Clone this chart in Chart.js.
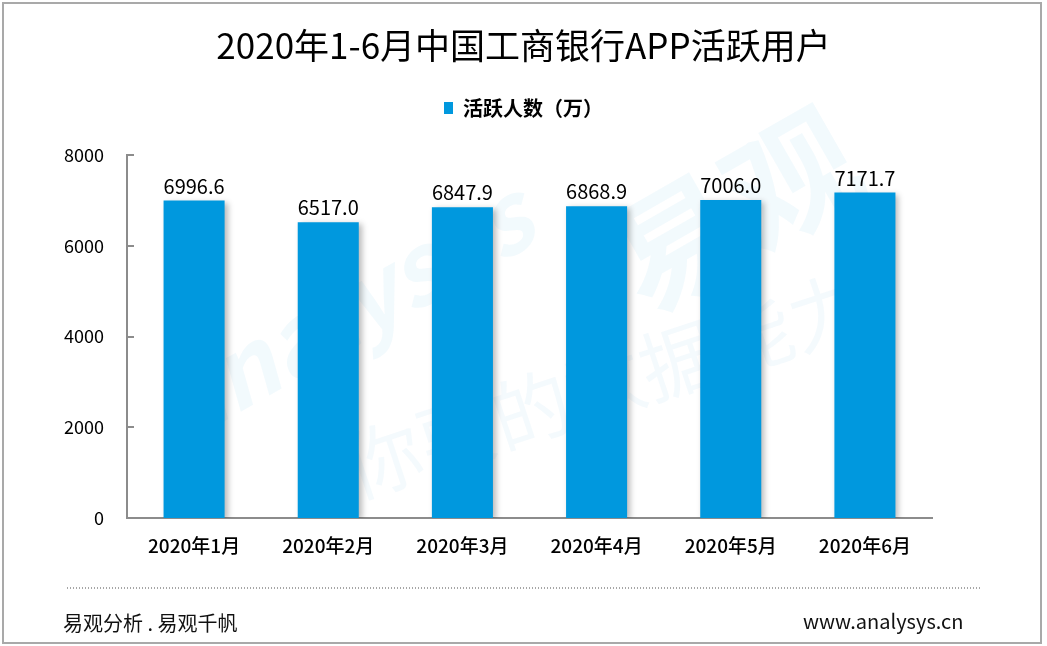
<!DOCTYPE html>
<html>
<head>
<meta charset="utf-8">
<script src="https://cdn.jsdelivr.net/npm/chart.js@4"></script>
<style>
  html, body { margin: 0; padding: 0; background: #fff; }
  #wrap { position: relative; width: 1047px; height: 646px; overflow: hidden; }
  #c { position: absolute; left: 0; top: 0; }
  #frame { position: absolute; left: 2px; top: 2px; width: 1040px; height: 642px; box-sizing: border-box;
           border: 2px solid #a9a9a9; pointer-events: none; }
  #dots { position: absolute; left: 67px; top: 587px; width: 913px; height: 2px;
          background: repeating-linear-gradient(to right, #a6a6a6 0 1.5px, transparent 1.5px 3px); }
  .foot { position: absolute; font-family: "Noto Sans CJK SC", "Noto Sans", sans-serif; color: #111; white-space: nowrap; font-size: 20px; }
  #fl { left: 63px; top: 608px; }
  #fr { left: 803px; top: 606px; }
</style>
</head>
<body>
<div id="wrap">
  <canvas id="c" width="1047" height="646"></canvas>
  <div id="dots"></div>
  <div class="foot" id="fl">易观分析 . 易观千帆</div>
  <div class="foot" id="fr">www.analysys.cn</div>
  <div id="frame"></div>
</div>
<script>
const chartTitle = '2020年1-6月中国工商银行APP活跃用户';
const seriesLabel = '活跃人数（万）';
const categories = ['2020年1月', '2020年2月', '2020年3月', '2020年4月', '2020年5月', '2020年6月'];
const activeUsers = [6996.6, 6517.0, 6847.9, 6868.9, 7006.0, 7171.7];
const yMin = 0;
const yMax = 8000;
const yStep = 2000;

const FONT = '"Noto Sans CJK SC", "Noto Sans", sans-serif';
const BAR_COLOR = '#0098DE';
const AXIS_COLOR = '#8c8c8c';

const watermark = {
  id: 'watermark',
  beforeDatasetsDraw(chart) {
    const ctx = chart.ctx;
    ctx.save();
    ctx.textAlign = 'center';
    ctx.textBaseline = 'middle';
    ctx.fillStyle = 'rgba(0,150,220,0.05)';
    ctx.translate(345, 310); ctx.rotate(-0.52);
    ctx.font = 'italic bold 96px ' + FONT;
    ctx.fillText('analysys', 0, 0);
    ctx.restore();
    ctx.save();
    ctx.textAlign = 'center'; ctx.textBaseline = 'middle';
    ctx.fillStyle = 'rgba(0,150,220,0.05)';
    ctx.translate(735, 210); ctx.rotate(-0.52);
    ctx.font = 'bold 130px ' + FONT;
    ctx.fillText('易观', 0, 0);
    ctx.restore();
    ctx.save();
    ctx.textAlign = 'center'; ctx.textBaseline = 'middle';
    ctx.fillStyle = 'rgba(0,150,220,0.045)';
    ctx.translate(605, 385); ctx.rotate(-0.32);
    ctx.font = '78px ' + FONT;
    ctx.fillText('你要的数据能力', 0, 0);
    ctx.restore();
  }
};

const barShadow = {
  id: 'barShadow',
  beforeDatasetDraw(chart) {
    const ctx = chart.ctx;
    ctx.save();
    ctx.shadowColor = 'rgba(0,0,0,0.28)';
    ctx.shadowBlur = 6;
    ctx.shadowOffsetX = 3;
    ctx.shadowOffsetY = 2;
  },
  afterDatasetDraw(chart) {
    chart.ctx.restore();
  }
};

const innerTicks = {
  id: 'innerTicks',
  afterDatasetsDraw(chart) {
    const ctx = chart.ctx;
    const y = chart.scales.y;
    const x0 = chart.chartArea.left;
    ctx.save();
    ctx.strokeStyle = AXIS_COLOR;
    ctx.lineWidth = 2;
    y.ticks.forEach(t => {
      const py = Math.round(y.getPixelForValue(t.value));
      ctx.beginPath();
      ctx.moveTo(x0, py);
      ctx.lineTo(x0 + 7, py);
      ctx.stroke();
    });
    ctx.restore();
  }
};

const valueLabels = {
  id: 'valueLabels',
  afterDatasetsDraw(chart) {
    const ctx = chart.ctx;
    const meta = chart.getDatasetMeta(0);
    ctx.save();
    ctx.font = '20px ' + FONT;
    ctx.fillStyle = '#000';
    ctx.textAlign = 'center';
    ctx.textBaseline = 'alphabetic';
    meta.data.forEach((bar, i) => {
      ctx.fillText(activeUsers[i].toFixed(1), bar.x, bar.y - 7);
    });
    ctx.restore();
  }
};

new Chart(document.getElementById('c'), {
  type: 'bar',
  data: {
    labels: categories,
    datasets: [{
      label: seriesLabel,
      data: activeUsers,
      backgroundColor: BAR_COLOR,
      borderWidth: 0,
      categoryPercentage: 1.0,
      barPercentage: 0.455
    }]
  },
  options: {
    responsive: false,
    animation: false,
    devicePixelRatio: 1,
    layout: { padding: { left: 0, right: 0, top: 0, bottom: 78 } },
    plugins: {
      title: {
        display: true,
        text: chartTitle,
        color: '#000',
        font: { family: FONT, size: 35, weight: 'normal' },
        padding: { top: 25, bottom: 22 }
      },
      legend: {
        display: true,
        position: 'top',
        align: 'center',
        labels: {
          color: '#000',
          boxWidth: 9,
          boxHeight: 12,
          padding: 9,
          font: { family: FONT, size: 20, weight: '600' }
        }
      },
      tooltip: { enabled: false }
    },
    scales: {
      x: {
        position: 'bottom',
        grid: { display: false, drawTicks: false },
        border: { display: true, color: AXIS_COLOR, width: 2 },
        ticks: { color: '#000', padding: 16, font: { family: FONT, size: 19, weight: '500' }, maxRotation: 0 },
        afterFit(s) { s.height = 50; }
      },
      xTop: {
        type: 'linear', position: 'top', min: 0, max: 1,
        grid: { display: false }, border: { display: false }, ticks: { display: false },
        afterFit(s) { s.height = 27; }
      },
      y: {
        position: 'left',
        min: yMin, max: yMax,
        grid: { display: false, drawTicks: false },
        border: { display: true, color: AXIS_COLOR, width: 2 },
        ticks: { stepSize: yStep, color: '#000', padding: 23, font: { family: FONT, size: 18 },
                 callback: v => String(v) },
        afterFit(s) { s.width = 127; }
      },
      yRight: {
        type: 'linear', position: 'right', min: 0, max: 1,
        grid: { display: false }, border: { display: false }, ticks: { display: false },
        afterFit(s) { s.width = 115; }
      }
    }
  },
  plugins: [watermark, barShadow, innerTicks, valueLabels]
});
</script>
</body>
</html>
